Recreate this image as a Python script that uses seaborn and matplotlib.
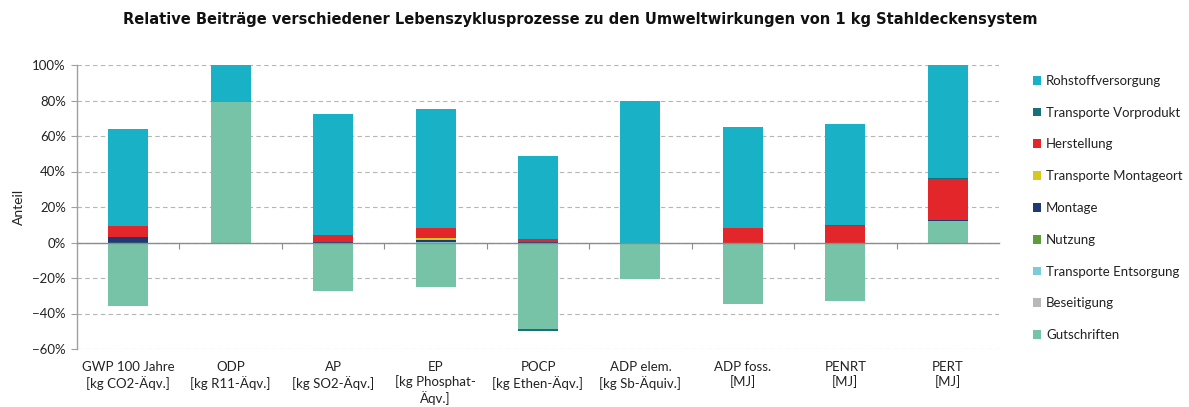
import matplotlib
matplotlib.use("Agg")
import matplotlib.pyplot as plt
from matplotlib.patches import Patch
from matplotlib.ticker import FixedLocator, PercentFormatter
import numpy as np
import pandas as pd
import seaborn as sns

categories = ["GWP 100 Jahre\n[kg CO2-Äqv.]", "ODP\n[kg R11-Äqv.]", "AP\n[kg SO2-Äqv.]",
              "EP\n[kg Phosphat-\nÄqv.]", "POCP\n[kg Ethen-Äqv.]", "ADP elem.\n[kg Sb-Äquiv.]",
              "ADP foss.\n[MJ]", "PENRT\n[MJ]", "PERT\n[MJ]"]

# stacking order from bottom to top
gutschriften = [-35.8, 79.2, -27.2, -24.8, -48.6, -20.3, -34.9, -32.8, 12.2]
beseitigung = [0, 0, 0, 0, 0, 0, 0, 0, 0]
transporte_entsorgung = [0, 0, 0, 0.3, -0.3, 0, 0, 0, 0]
nutzung = [0, 0, 0, 0, 0, 0, 0, 0, 0]
montage = [3.0, 0, 0.4, 1.0, 0.05, 0, 0, 0, 0.7]
transporte_montageort = [0.2, 0, 0.1, 1.0, 0, 0, 0, 0, 0]
herstellung = [6.0, 0, 3.6, 5.6, 2.2, 0, 7.9, 9.3, 23.0]
transporte_vorprodukt = [0.3, 0, 0.2, 0.3, -0.8, 0, 0.3, 0.3, 0.2]
rohstoffversorgung = [54.5, 20.8, 68.3, 66.8, 46.75, 79.7, 56.8, 57.4, 63.9]

series_names = ["Gutschriften", "Beseitigung", "Transporte Entsorgung", "Nutzung", "Montage",
                "Transporte Montageort", "Herstellung", "Transporte Vorprodukt", "Rohstoffversorgung"]
series_values = [gutschriften, beseitigung, transporte_entsorgung, nutzung, montage,
                 transporte_montageort, herstellung, transporte_vorprodukt, rohstoffversorgung]
colors = {"Rohstoffversorgung": "#19b1c5", "Transporte Vorprodukt": "#17707a",
          "Herstellung": "#e3262a", "Transporte Montageort": "#d5c81f", "Montage": "#1f3a73",
          "Nutzung": "#5e9c3b", "Transporte Entsorgung": "#7ccbd8", "Beseitigung": "#b8b8b8",
          "Gutschriften": "#76c3a7"}

sns.set_theme(style="white")
plt.rcParams["font.family"] = ["Lato", "DejaVu Sans"]

fig = plt.figure(figsize=(11.89, 4.07), dpi=100)
ax = fig.add_axes([77 / 1189, 1 - 349 / 407, 922 / 1189, 284 / 407])

pos_base = np.zeros(len(categories))
neg_base = np.zeros(len(categories))
for name, vals in zip(series_names, series_values):
    v = np.array(vals, dtype=float)
    bottom = np.where(v >= 0, pos_base, neg_base)
    df = pd.DataFrame({"cat": categories, "val": v})
    sns.barplot(data=df, x="cat", y="val", order=categories, bottom=bottom,
                color=colors[name], saturation=1, width=0.39, errorbar=None,
                linewidth=0, ax=ax)
    pos_base = pos_base + np.where(v > 0, v, 0)
    neg_base = neg_base + np.where(v < 0, v, 0)

ax.set_ylim(-60, 100)
ax.set_xlim(-0.5, len(categories) - 0.5)
ax.set_yticks(np.arange(-60, 101, 20))
ax.yaxis.set_major_formatter(PercentFormatter(decimals=0))
ax.grid(axis="y", color="#b5b5b5", linestyle=(0, (4, 3)), linewidth=0.8)
ax.set_axisbelow(True)

for s in ["top", "right"]:
    ax.spines[s].set_visible(False)
ax.spines["left"].set_color("#a0a0a0")
ax.spines["left"].set_linewidth(1.0)
ax.spines["bottom"].set_position(("data", 0))
ax.spines["bottom"].set_color("#8c8c8c")
ax.spines["bottom"].set_linewidth(1.0)
ax.spines["bottom"].set_zorder(5)

ax.xaxis.set_minor_locator(FixedLocator(np.arange(0.5, len(categories) - 0.5, 1.0)))
ax.tick_params(axis="x", which="major", length=0, pad=85, labelsize=9.5, colors="#222222")
ax.tick_params(axis="x", which="minor", length=4, width=0.8, color="#8c8c8c", direction="out",
               bottom=True)
ax.tick_params(axis="y", which="major", length=4, width=0.8, color="#a0a0a0", direction="out",
               left=True, labelsize=9.5, colors="#222222", pad=4)
for lbl in ax.get_xticklabels():
    lbl.set_verticalalignment("top")
    lbl.set_linespacing(1.25)

ax.set_xlabel("")
ax.set_ylabel("Anteil", fontsize=10, color="#222222", labelpad=5)

fig.suptitle("Relative Beiträge verschiedener Lebenszyklusprozesse zu den Umweltwirkungen von 1 kg Stahldeckensystem",
             x=0.488, y=0.97, fontsize=10.5, fontweight="bold", color="#111111",
             fontfamily=["DejaVu Sans"])

handles = [Patch(facecolor=colors[n], edgecolor="none", label=n) for n in reversed(series_names)]
fig.legend(handles=handles, loc="upper left", bbox_to_anchor=(1021 / 1189, 1 - 63 / 407),
           frameon=False, fontsize=9.5, handlelength=0.65, handleheight=0.65,
           handletextpad=0.35, labelspacing=1.5, labelcolor="#222222")

fig.savefig("out.png", dpi=100)
